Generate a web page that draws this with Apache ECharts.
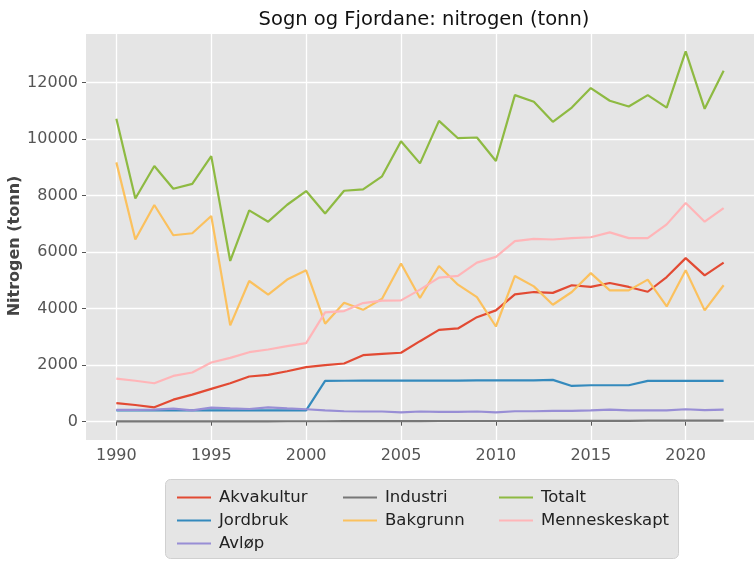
<!DOCTYPE html>
<html>
<head>
<meta charset="utf-8">
<script src="https://cdn.jsdelivr.net/npm/echarts@6/dist/echarts.min.js"></script>
<style>
html,body{margin:0;padding:0;background:#fff;}
#chart{width:755px;height:568px;}
</style>
</head>
<body>
<div id="chart"></div>
<script>
const years = [1990,1991,1992,1993,1994,1995,1996,1997,1998,1999,2000,2001,2002,2003,2004,2005,2006,2007,2008,2009,2010,2011,2012,2013,2014,2015,2016,2017,2018,2019,2020,2021,2022];
const akvakultur = [660,590,510,780,960,1160,1360,1600,1660,1785,1930,2000,2060,2355,2400,2440,2850,3250,3300,3700,3940,4510,4590,4560,4830,4770,4910,4770,4600,5120,5790,5180,5630];
const jordbruk = [400,400,400,400,400,400,400,400,400,400,400,1445,1450,1455,1455,1455,1455,1455,1455,1460,1460,1465,1460,1480,1265,1290,1290,1290,1445,1445,1445,1445,1445];
const avlop = [420,420,430,460,400,500,470,450,510,470,440,400,370,360,360,330,360,350,350,360,330,370,370,380,380,400,430,400,400,400,440,410,430];
const industri = [10,10,10,10,10,10,10,10,10,15,15,15,20,20,20,20,20,25,25,25,25,25,30,30,30,30,30,30,35,35,35,35,40];
const bakgrunn = [9180,6450,7670,6600,6670,7280,3410,4980,4500,5030,5360,3470,4210,3960,4350,5600,4380,5510,4850,4410,3370,5160,4790,4140,4590,5260,4650,4650,5030,4080,5360,3940,4830];
const totalt = [10720,7900,9050,8245,8420,9400,5690,7480,7080,7680,8165,7370,8175,8225,8685,9930,9145,10650,10035,10060,9230,11560,11325,10615,11120,11810,11360,11160,11560,11120,13110,11075,12425];
const menneskeskapt = [1527,1450,1360,1620,1740,2095,2260,2460,2555,2675,2780,3870,3915,4200,4285,4295,4675,5100,5160,5630,5835,6390,6470,6450,6500,6530,6700,6500,6500,6985,7740,7080,7560];
const xTicks = [1990,1995,2000,2005,2010,2015,2020];
const yTicks = [0,2000,4000,6000,8000,10000,12000];
const seriesNames = ['Akvakultur','Jordbruk','Avløp','Industri','Bakgrunn','Totalt','Menneskeskapt'];
const seriesData = [akvakultur,jordbruk,avlop,industri,bakgrunn,totalt,menneskeskapt];
const colors = ['#E24A33','#348ABD','#988ED5','#777777','#FBC15E','#8EBA42','#FFB5B8'];
const legendCols = [['Akvakultur','Jordbruk','Avløp'],['Industri','Bakgrunn'],['Totalt','Menneskeskapt']];

const font = 'DejaVu Sans';
const chart = echarts.init(document.getElementById('chart'), null, {renderer:'canvas'});
const legendX = [172, 338, 494];
const option = {
  animation: false,
  color: colors,
  textStyle: {fontFamily: font},
  title: {
    text: 'Sogn og Fjordane: nitrogen (tonn)',
    left: 419, top: 5, textAlign: 'center',
    textStyle: {fontFamily: font, fontSize: 19.5, fontWeight: 'normal', color: '#111'}
  },
  graphic: [{
    type: 'rect', left: 165, top: 479, z: 0,
    shape: {width: 513, height: 79, r: 5},
    style: {fill: '#E5E5E5', stroke: '#d0d0d0', lineWidth: 1}
  }, {
    type: 'text', x: 15, y: 246, rotation: Math.PI / 2, z: 10,
    style: {text: 'Nitrogen (tonn)', fontFamily: font, fontSize: 16, fontWeight: 'bold', fill: '#444', align: 'center', verticalAlign: 'middle'}
  }],
  legend: legendCols.map((names, i) => ({
    data: names,
    orient: 'vertical',
    left: legendX[i], top: 484,
    itemGap: 6,
    itemWidth: 34, itemHeight: 2,
    icon: 'rect',
    z: 5,
    textStyle: {fontFamily: font, fontSize: 16.5, color: '#222', padding: [0,0,0,3]}
  })),
  grid: {
    left: 86, right: 1, top: 34, bottom: 128,
    outerBoundsMode: 'none', containLabel: false,
    show: true, backgroundColor: '#E5E5E5', borderWidth: 0
  },
  xAxis: {
    type: 'value', min: 1988.4, max: 2023.6,
    axisLine: {show: false},
    axisTick: {show: true, length: 4, lineStyle: {color: '#555'}, customValues: xTicks},
    axisLabel: {customValues: xTicks, fontFamily: font, fontSize: 16, color: '#555', margin: 8, formatter: v => String(v)},
    splitLine: {show: true, lineStyle: {color: '#fff', width: 1.3}}
  },
  yAxis: {
    type: 'value', min: -648, max: 13724,
    axisLine: {show: false},
    axisTick: {show: true, length: 4, lineStyle: {color: '#555'}, customValues: yTicks},
    axisLabel: {customValues: yTicks, fontFamily: font, fontSize: 16, color: '#555', margin: 8, formatter: v => String(v)},
    splitLine: {show: true, lineStyle: {color: '#fff', width: 1.3}}
  },
  series: seriesNames.map((name, i) => ({
    name: name,
    type: 'line',
    data: years.map((y, j) => [y, seriesData[i][j]]),
    symbol: 'none',
    lineStyle: {width: 2.2, color: colors[i]},
    itemStyle: {color: colors[i]},
    z: 2 + i
  }))
};
chart.setOption(option);
</script>
</body>
</html>
